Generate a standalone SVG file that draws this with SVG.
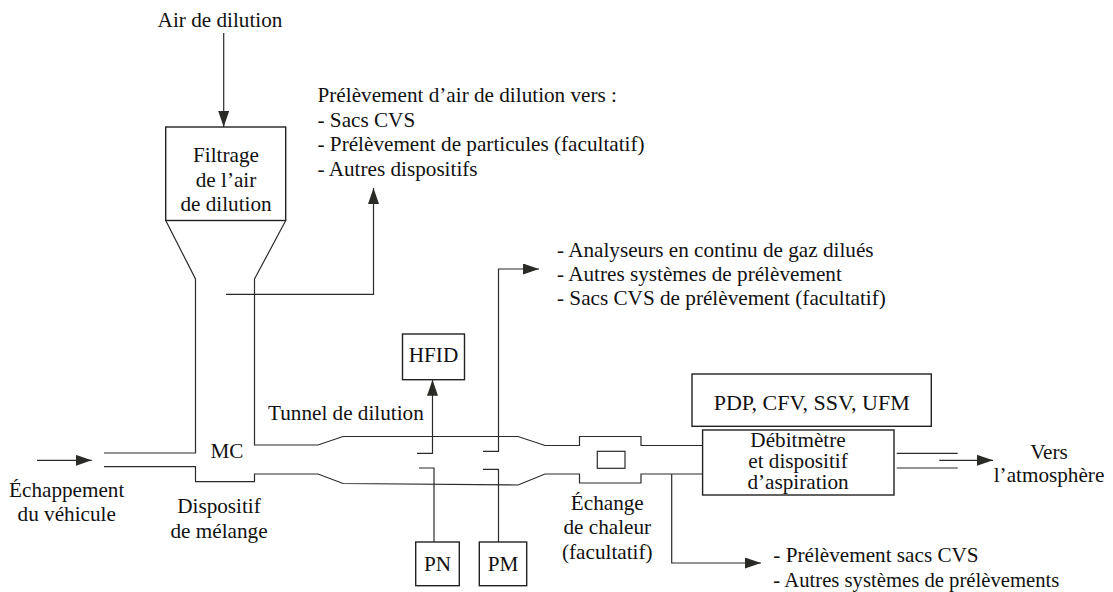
<svg xmlns="http://www.w3.org/2000/svg" width="1113" height="592" viewBox="0 0 1113 592">
<style>
text{font-family:"Liberation Serif","Times New Roman",serif;font-size:21.200px;fill:#111}
.m{text-anchor:middle}
.l{fill:none;stroke:#2a2a28;stroke-width:1.2}
.b{fill:#fff;stroke:#222;stroke-width:1.4}
</style>
<defs><marker id="a" markerUnits="userSpaceOnUse" markerWidth="17" markerHeight="12" refX="16" refY="5.500" orient="auto"><path d="M0 0L16 5.500L0 11Z" fill="#2a2a26"/></marker></defs>
<rect width="1113" height="592" fill="#fff"/>
<g id="connectors">
<path class="l" d="M223.700 33V127" marker-end="url(#a)"/>
<path class="l" d="M166 221L195.500 279V453H104"/>
<path class="l" d="M285.500 221L254.500 279V445H318L343 436.500H518L545 445.500H579.500V436.500H641V445.500H702.600"/>
<path class="l" d="M104 466.700H195.500V481.700H254.500V474H318L343 483.500L518 485L545 474H579.500V483H641V474H702.600"/>
<path class="l" d="M226 294.300H373.500V188" marker-end="url(#a)"/>
<path class="l" d="M37 460.300H91.700" marker-end="url(#a)"/>
<path class="l" d="M417 453.300H432.500V379.700" marker-end="url(#a)"/>
<path class="l" d="M419 468H434V542"/>
<path class="l" d="M483 451.300H498.500V269H539" marker-end="url(#a)"/>
<path class="l" d="M483 469.300H498.500V542"/>
<path class="l" d="M671.700 474V563H761" marker-end="url(#a)"/>
<path class="l" d="M896.700 453.300H957.700M896.700 468H957.700"/>
<path class="l" d="M939.300 460.300H993" marker-end="url(#a)"/>
</g>
<g id="filtrage"><rect class="b" x="165.700" y="127" width="120" height="93.500"/><text class="m" x="226" y="162">Filtrage</text><text class="m" x="226" y="187">de l’air</text><text class="m" x="226" y="211">de dilution</text></g>
<g id="hfid"><rect class="b" x="402.500" y="334" width="62" height="45.700"/><text class="m" x="433.500" y="362">HFID</text></g>
<g id="pn"><rect class="b" x="415.700" y="542" width="43.600" height="43.700"/><text class="m" x="437.500" y="571">PN</text></g>
<g id="pm"><rect class="b" x="479.300" y="542" width="47.400" height="43.700"/><text class="m" x="503" y="571">PM</text></g>
<g id="pdp"><rect class="b" x="692" y="374" width="239.300" height="52.300"/><text class="m" x="811.700" y="410" style="font-size:22px">PDP, CFV, SSV, UFM</text></g>
<g id="debitmetre"><rect class="b" x="702.600" y="430" width="191.400" height="65"/><text class="m" x="798" y="446.700">Débitmètre</text><text class="m" x="798" y="467.700">et dispositif</text><text class="m" x="798" y="489">d’aspiration</text></g>
<g id="echangeur"><rect class="l" x="597.300" y="451.300" width="27.700" height="17"/></g>
<g id="labels">
<text class="m" x="220" y="27">Air de dilution</text>
<text x="317.500" y="102">Prélèvement d’air de dilution vers :</text>
<text x="317.500" y="127">- Sacs CVS</text>
<text x="317.500" y="151">- Prélèvement de particules (facultatif)</text>
<text x="317.500" y="175.500">- Autres dispositifs</text>
<text x="557" y="256.700">- Analyseurs en continu de gaz dilués</text>
<text x="557" y="281">- Autres systèmes de prélèvement</text>
<text x="557" y="305">- Sacs CVS de prélèvement (facultatif)</text>
<text x="268" y="420">Tunnel de dilution</text>
<text class="m" x="227" y="457.700">MC</text>
<text class="m" x="66.700" y="497">Échappement</text>
<text class="m" x="66.700" y="521">du véhicule</text>
<text class="m" x="219" y="512.700">Dispositif</text>
<text class="m" x="219" y="537.700">de mélange</text>
<text class="m" x="607.300" y="510">Échange</text>
<text class="m" x="607.300" y="534">de chaleur</text>
<text class="m" x="607.300" y="559">(facultatif)</text>
<text class="m" x="1049" y="458.700">Vers</text>
<text class="m" x="1049" y="482.300">l’atmosphère</text>
<text x="773.300" y="561.700">- Prélèvement sacs CVS</text>
<text x="773.300" y="586.700" style="font-size:20.700px">- Autres systèmes de prélèvements</text>
</g>
</svg>
